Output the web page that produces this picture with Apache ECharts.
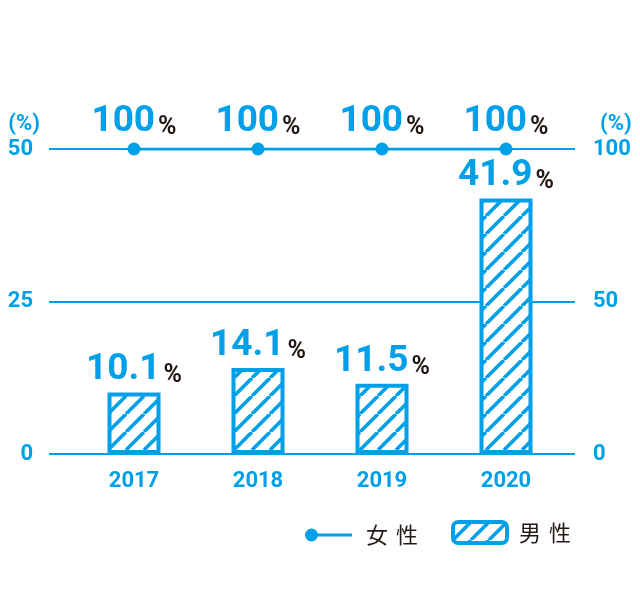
<!DOCTYPE html>
<html><head><meta charset="utf-8">
<script src="https://cdn.jsdelivr.net/npm/echarts@6/dist/echarts.min.js"></script>
<style>html,body{margin:0;padding:0;background:#fff}#c{width:640px;height:600px}</style>
</head><body><div id="c"></div>
<script>
const years = ['2017', '2018', '2019', '2020'];
const maleValues = [10.1, 14.1, 11.5, 41.9];
const femaleValues = [100, 100, 100, 100];
const leftTicks = [0, 25, 50];
const rightTicks = [0, 50, 100];
const seriesNames = ['女性', '男性'];
const unitName = '(%)';

const BLUE = '#00a0e9';
const DARK = '#231815';
const FONT = 'Roboto, "Noto Sans", sans-serif';
const CJK = '"Noto Sans CJK JP", "Noto Sans", sans-serif';

function makeHatch() {
  const s = 18, c = document.createElement('canvas');
  c.width = s; c.height = s;
  const g = c.getContext('2d');
  g.fillStyle = '#fff'; g.fillRect(0, 0, s, s);
  g.strokeStyle = BLUE; g.lineWidth = 3.6;
  g.beginPath();
  for (const o of [-s, 0, s]) { g.moveTo(o, s); g.lineTo(o + s, 0); }
  g.stroke();
  return c;
}
const hatch = { image: makeHatch(), repeat: 'repeat' };

const numRich = {
  a: { fontSize: 37, fontWeight: 'bold', color: BLUE, fontFamily: FONT, lineHeight: 36, verticalAlign: 'bottom' },
  b: { fontSize: 25, fontWeight: 'bold', color: DARK, fontFamily: FONT, lineHeight: 27, verticalAlign: 'bottom', padding: [0, 0, 0, 3] }
};
const labelFmt = p => `{a|${p.value}}{b|%}`;

const legendRich = {
  f: { fontSize: 22, color: DARK, fontFamily: CJK, padding: [0, 8, 0, 9] },
  g: { fontSize: 22, color: DARK, fontFamily: CJK, padding: [0, 8, 0, 7] },
  c: { fontSize: 22, color: DARK, fontFamily: CJK }
};
const legendFmt = (pad) => name => name.split('').map((ch, i) => i === 0 ? `{${pad}|${ch}}` : `{c|${ch}}`).join('');

const axisLabelStyle = { color: BLUE, fontSize: 22, fontWeight: 'bold', fontFamily: FONT };

const option = {
  animation: false,
  backgroundColor: '#fff',
  grid: [
    { left: 49, right: 65, top: 149, bottom: 146 },
    { left: 72, right: 72, top: 149, bottom: 146 }
  ],
  legend: [
    {
      data: [seriesNames[0]], left: 300, top: 519, itemWidth: 47, itemHeight: 13,
      icon: 'path://M0,6.5 A6.5,6.5 0 1,1 13,6.5 A6.5,6.5 0 1,1 0,6.5 Z M12,5 L47,5 L47,8 L12,8 Z',
      formatter: legendFmt('f'), textStyle: { rich: legendRich }, selectedMode: false
    },
    {
      data: [seriesNames[1]], left: 446, top: 515, itemWidth: 54, itemHeight: 21,
      itemStyle: { borderWidth: 4, borderColor: BLUE },
      formatter: legendFmt('g'), textStyle: { rich: legendRich }, selectedMode: false
    }
  ],
  xAxis: [
    { gridIndex: 0, type: 'value', min: 0, max: 1, show: false },
    {
      gridIndex: 1, type: 'category', data: years,
      axisLine: { show: false }, axisTick: { show: false },
      axisLabel: Object.assign({ margin: 16 }, axisLabelStyle)
    }
  ],
  yAxis: [
    {
      gridIndex: 0, type: 'value', position: 'left',
      min: leftTicks[0], max: leftTicks[leftTicks.length - 1], interval: leftTicks[1] - leftTicks[0],
      name: unitName, nameLocation: 'end', nameGap: 14,
      nameTextStyle: Object.assign({ align: 'right', padding: [0, 9, 0, 0] }, axisLabelStyle),
      axisLine: { show: false }, axisTick: { show: false },
      axisLabel: Object.assign({ margin: 16 }, axisLabelStyle),
      splitLine: { show: true, lineStyle: { color: BLUE, width: 2 } }
    },
    {
      gridIndex: 0, type: 'value', position: 'right',
      min: rightTicks[0], max: rightTicks[rightTicks.length - 1], interval: rightTicks[1] - rightTicks[0],
      name: unitName, nameLocation: 'end', nameGap: 14,
      nameTextStyle: Object.assign({ align: 'left', padding: [0, 0, 0, 25] }, axisLabelStyle),
      axisLine: { show: false }, axisTick: { show: false },
      axisLabel: Object.assign({ margin: 18 }, axisLabelStyle),
      splitLine: { show: false }
    },
    { gridIndex: 1, type: 'value', min: leftTicks[0], max: leftTicks[leftTicks.length - 1], show: false },
    { gridIndex: 1, type: 'value', min: rightTicks[0], max: rightTicks[rightTicks.length - 1], show: false }
  ],
  series: [
    {
      name: seriesNames[1], type: 'bar', xAxisIndex: 1, yAxisIndex: 2,
      data: maleValues, barWidth: 53,
      itemStyle: { color: hatch, borderColor: BLUE, borderWidth: 4 },
      label: { show: true, position: 'top', distance: 4, formatter: labelFmt, rich: numRich }
    },
    {
      name: seriesNames[0], type: 'line', xAxisIndex: 1, yAxisIndex: 3,
      data: femaleValues, symbol: 'circle', symbolSize: 13,
      lineStyle: { color: BLUE, width: 3 }, itemStyle: { color: BLUE },
      label: { show: true, position: 'top', distance: 2, formatter: labelFmt, rich: numRich },
      z: 5
    }
  ]
};

const chart = echarts.init(document.getElementById('c'), null, { renderer: 'canvas' });
chart.setOption(option);
</script>
</body></html>
